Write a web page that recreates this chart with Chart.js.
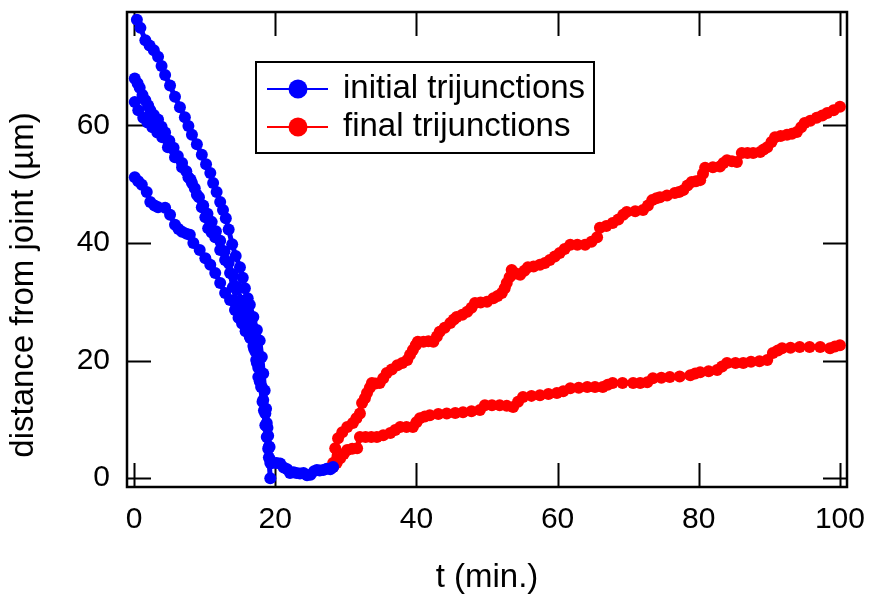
<!DOCTYPE html>
<html>
<head>
<meta charset="utf-8">
<script src="https://cdn.jsdelivr.net/npm/chart.js@4.4.1/dist/chart.umd.min.js"></script>
<style>
  html, body { margin: 0; padding: 0; background: #fff; }
  #wrap { position: relative; width: 873px; height: 594px; }
</style>
</head>
<body>
<div id="wrap"><canvas id="chart" width="873" height="594"></canvas></div>
<script>
// time axis ticks and value axis ticks
const xTicks = [0, 20, 40, 60, 80, 100];
const yTicks = [0, 20, 40, 60];

// initial trijunctions (four tracks, blue)
const tA = [0.4, 0.9, 1.6, 2.2, 2.8, 3.4, 3.9, 4.4, 5.1, 5.8, 6.5, 7.2, 7.7, 8.2, 8.9, 9.6, 10.2, 10.8, 11.2, 11.7, 12.2, 12.6, 13.0, 13.4, 13.9, 14.4, 15.0, 15.4, 15.7, 16.1, 16.4, 16.9, 17.4, 17.8, 18.1, 18.3, 18.5, 18.7, 18.9, 19.1, 19.3];
const yA = [78, 76.6, 74.5, 73.6, 72.8, 71.7, 70.1, 68.6, 66.8, 64.9, 63.1, 61.4, 59.9, 58.4, 56.8, 55, 53.4, 51.9, 50.2, 48.7, 47, 45.6, 44.2, 42.3, 39.8, 37.8, 35.9, 34.1, 32.3, 30.6, 29.5, 27.4, 25.2, 23.4, 20.6, 17.8, 14.9, 11.8, 8.6, 5.4, 2.6];

const tB = [0.1, 0.5, 0.8, 1.2, 1.6, 2.0, 2.3, 2.8, 3.4, 3.9, 4.4, 5.0, 5.6, 6.2, 6.8, 7.4, 8.0, 8.6, 9.2, 9.8, 10.4, 11.0, 11.6, 12.2, 12.8, 13.4, 14.0, 14.6, 15.2, 15.7, 16.2, 16.7, 17.2, 17.6, 18.0, 18.4, 18.8, 19.1];
const yB = [68, 67.2, 66.4, 65.2, 64.3, 63.4, 62.6, 61.8, 61, 59.8, 58.8, 57.4, 56.2, 54.8, 53.6, 52.2, 50.8, 49.3, 47.8, 46.4, 45, 43.6, 42, 40.4, 38.6, 36.6, 34.6, 32.5, 30.2, 28.2, 26.2, 24, 21.5, 18.8, 15.5, 11.5, 7, 3.5];

const tC = [0.1, 0.6, 1.3, 1.9, 2.6, 3.3, 4.0, 4.8, 5.8, 6.8, 7.7, 8.2, 8.9, 9.6, 10.1, 10.5, 11.0, 11.5, 12.2, 12.9, 13.6, 14.0, 14.6, 15.0, 15.5, 16.0, 16.5, 17.0, 17.4, 17.8, 18.2, 18.6, 19.0, 19.3];
const yC = [64, 62.6, 61.3, 60.5, 59.7, 58.8, 58, 56.3, 54.6, 52.9, 51.2, 50.2, 48.2, 46.1, 44.4, 42.5, 41.8, 41, 38.8, 37.1, 34.9, 32.5, 29.8, 28, 26.5, 25.2, 23.8, 22, 19.6, 16.5, 13, 9, 5, 0];

const tD = [0.1, 0.6, 1.1, 1.8, 2.3, 2.9, 3.4, 4.4, 5.1, 5.8, 6.3, 6.8, 7.4, 7.9, 8.4, 9.3, 10.1, 10.8, 11.5, 12.2, 12.9, 13.6, 14.3, 14.8, 15.3, 15.8, 16.4, 16.9, 17.3, 17.6, 18.1, 18.3, 18.6, 18.8, 19.0, 19.2, 19.3, 19.6, 20.2, 20.7, 21.2, 21.7, 22.1, 22.6, 23.0, 23.5, 24.0, 24.5, 25.0, 25.5, 25.9, 26.3, 26.8, 27.3, 27.8, 28.2];
const yD = [51.2, 50.5, 49.9, 48.7, 47, 46.4, 46.1, 46, 44.8, 43.1, 42.4, 41.9, 41.6, 41.4, 40, 38.8, 37.4, 36.3, 34.9, 33.2, 31.5, 30.3, 28.6, 27.3, 26.3, 25, 24, 22.5, 20.1, 17.2, 15.5, 13.3, 11, 9.4, 7.2, 5.3, 3.1, 2.6, 2.6, 2.5, 1.8, 1.5, 0.9, 1.0, 0.9, 0.8, 0.9, 0.5, 0.6, 1.2, 1.4, 1.3, 1.4, 1.6, 1.5, 1.9];

// final trijunctions (two tracks, red)
const tR1 = [28.2, 28.5, 28.9, 29.5, 30.2, 31.0, 31.5, 32.0, 32.3, 32.7, 33.0, 33.4, 33.7, 34.2, 34.8, 35.3, 35.8, 36.5, 37.3, 38.0, 38.7, 39.1, 39.5, 39.9, 40.2, 41.0, 41.7, 42.4, 42.9, 43.3, 44.0, 44.8, 45.3, 45.7, 46.5, 47.2, 47.8, 48.3, 49.1, 50.0, 50.9, 51.5, 52.1, 52.5, 52.8, 53.2, 53.5, 54.1, 54.7, 55.3, 55.8, 56.6, 57.5, 58.2, 58.9, 59.6, 60.3, 61.0, 61.8, 62.8, 63.9, 64.8, 65.6, 66.0, 66.9, 67.8, 68.6, 69.3, 69.8, 71.0, 72.1, 72.8, 73.4, 74.0, 74.5, 75.5, 76.6, 77.2, 77.8, 78.4, 79.0, 79.6, 80.2, 80.6, 80.9, 82.0, 83.0, 83.5, 84.0, 84.7, 85.4, 86.1, 86.9, 87.7, 88.7, 89.2, 89.7, 90.3, 90.8, 91.6, 92.5, 93.2, 93.9, 94.5, 95.0, 95.8, 96.7, 97.5, 98.2, 99.1, 100];
const yR1 = [2.6, 5.1, 6.8, 7.8, 8.7, 9.4, 10.2, 11, 12.8, 13.6, 14.5, 15.4, 16.2, 16.1, 16.2, 17.0, 17.9, 18.5, 19.2, 19.6, 20.1, 21.0, 21.8, 22.6, 23.2, 23.2, 23.3, 23.2, 24.1, 24.9, 25.6, 26.4, 27.0, 27.4, 27.8, 28.3, 29.0, 29.8, 29.9, 30.0, 30.6, 31.0, 31.5, 32.3, 33.2, 34.2, 35.4, 34.8, 34.6, 35.3, 35.9, 36.0, 36.3, 36.6, 37.1, 37.7, 38.3, 39.0, 39.7, 39.7, 39.7, 40.2, 41.0, 42.6, 42.9, 43.4, 44.0, 44.8, 45.3, 45.4, 45.6, 46.4, 47.3, 47.6, 47.8, 48.1, 48.5, 48.7, 49.0, 49.8, 50.4, 50.5, 50.7, 51.8, 52.8, 52.9, 53.0, 53.6, 54.1, 53.9, 53.8, 55.3, 55.3, 55.3, 55.5, 55.9, 56.3, 57.2, 58.0, 58.2, 58.4, 58.6, 58.9, 59.7, 60.4, 60.8, 61.3, 61.7, 62.1, 62.6, 63.2];

const tR2 = [28.2, 28.7, 29.2, 29.7, 30.2, 30.9, 31.6, 32.0, 32.8, 33.6, 34.4, 35.3, 36.3, 37.0, 37.7, 38.6, 39.5, 40.0, 40.5, 41.2, 41.9, 43.1, 44.3, 45.5, 46.6, 47.8, 49.0, 49.7, 50.7, 51.8, 52.8, 53.7, 54.4, 55.1, 56.3, 57.5, 58.7, 59.9, 60.8, 61.8, 63.0, 64.2, 65.3, 66.4, 67.1, 67.8, 69.2, 70.7, 71.7, 72.7, 73.5, 74.7, 75.9, 77.3, 78.8, 79.5, 80.2, 81.4, 82.6, 83.3, 84.0, 85.2, 86.3, 87.4, 88.6, 89.7, 90.5, 91.2, 91.8, 93.0, 94.3, 95.7, 97.2, 98.6, 99.3, 100];
const yR2 = [1.9, 2.6, 3.4, 4.1, 4.8, 5.0, 5.1, 7.0, 7.0, 7.0, 7.0, 7.3, 7.7, 8.2, 8.7, 8.7, 8.7, 9.5, 10.2, 10.5, 10.7, 10.9, 11.0, 11.1, 11.2, 11.4, 11.6, 12.4, 12.4, 12.4, 12.3, 12.1, 13.0, 13.8, 14.0, 14.1, 14.3, 14.5, 14.8, 15.3, 15.4, 15.5, 15.5, 15.5, 15.9, 16.2, 16.2, 16.2, 16.2, 16.3, 17.0, 17.1, 17.2, 17.3, 17.5, 17.8, 18.0, 18.2, 18.4, 19.0, 19.6, 19.6, 19.6, 19.8, 19.9, 20.1, 21.3, 21.7, 22.1, 22.2, 22.3, 22.3, 22.3, 22.1, 22.4, 22.6];

const BLUE = '#0000ff';
const RED = '#ff0000';
const FONT = '"Liberation Sans", Arial, Helvetica, sans-serif';

function pairs(ts, ys) {
    return ts.map((t, i) => ({ x: t, y: ys[i] }));
}

function series(label, ts, ys, color) {
    return {
        label: label,
        data: pairs(ts, ys),
        borderColor: color,
        backgroundColor: color,
        borderWidth: 5,
        borderCapStyle: 'round',
        borderJoinStyle: 'round',
        pointRadius: 6,
        pointBorderWidth: 0,
        pointBackgroundColor: color,
        pointHoverRadius: 6,
        tension: 0
    };
}

// frame with inward ticks on all four sides, drawn under the data
const framePlugin = {
    id: 'frame',
    beforeDatasetsDraw(chart) {
        const { ctx, chartArea: a, scales } = chart;
        const len = 24;
        ctx.save();
        ctx.strokeStyle = '#000';
        ctx.lineWidth = 2;
        ctx.beginPath();
        xTicks.forEach(v => {
            const px = Math.round(scales.x.getPixelForValue(v)) + 0.5;
            ctx.moveTo(px, a.bottom); ctx.lineTo(px, a.bottom - len);
            ctx.moveTo(px, a.top); ctx.lineTo(px, a.top + len);
        });
        yTicks.forEach(v => {
            const py = Math.round(scales.y.getPixelForValue(v)) + 0.5;
            ctx.moveTo(a.left, py); ctx.lineTo(a.left + len, py);
            ctx.moveTo(a.right, py); ctx.lineTo(a.right - len, py);
        });
        ctx.stroke();
        ctx.lineWidth = 2.5;
        ctx.strokeRect(a.left, a.top, a.right - a.left, a.bottom - a.top);
        ctx.restore();
    },
    afterDraw(chart) {
        const ctx = chart.ctx;
        ctx.save();
        // y axis title
        ctx.fillStyle = '#000';
        ctx.font = '33px ' + FONT;
        ctx.translate(24, 285);
        ctx.rotate(-Math.PI / 2);
        ctx.textAlign = 'center';
        ctx.textBaseline = 'middle';
        ctx.fillText('distance from joint (\u00b5m)', 0, 0);
        ctx.restore();

        // legend box
        ctx.save();
        ctx.fillStyle = '#fff';
        ctx.fillRect(256, 62, 338, 91);
        ctx.strokeStyle = '#000';
        ctx.lineWidth = 2;
        ctx.strokeRect(256, 62, 338, 91);
        const rows = [
            { text: 'initial trijunctions', color: BLUE, y: 89 },
            { text: 'final trijunctions', color: RED, y: 127 }
        ];
        ctx.font = '33px ' + FONT;
        ctx.textAlign = 'left';
        ctx.textBaseline = 'alphabetic';
        rows.forEach(r => {
            ctx.strokeStyle = r.color;
            ctx.lineWidth = 2;
            ctx.beginPath();
            ctx.moveTo(267, r.y); ctx.lineTo(328, r.y);
            ctx.stroke();
            ctx.fillStyle = r.color;
            ctx.beginPath();
            ctx.arc(298, r.y, 9.5, 0, Math.PI * 2);
            ctx.fill();
            ctx.fillStyle = '#000';
            ctx.fillText(r.text, 343, r.y + 9);
        });
        ctx.restore();
    }
};

const ctx = document.getElementById('chart').getContext('2d');
new Chart(ctx, {
    type: 'line',
    data: {
        datasets: [
            series('initial trijunctions', tA, yA, BLUE),
            series('initial trijunctions', tB, yB, BLUE),
            series('initial trijunctions', tC, yC, BLUE),
            series('initial trijunctions', tD, yD, BLUE),
            series('final trijunctions', tR1, yR1, RED),
            series('final trijunctions', tR2, yR2, RED)
        ]
    },
    options: {
        responsive: false,
        animation: false,
        devicePixelRatio: 1,
        layout: { padding: { left: 0, right: 26, top: 12, bottom: 0 } },
        plugins: {
            legend: { display: false },
            tooltip: { enabled: false }
        },
        scales: {
            x: {
                type: 'linear',
                min: -1,
                max: 101,
                afterBuildTicks: (scale) => { scale.ticks = xTicks.map(v => ({ value: v })); },
                afterFit: (scale) => {
                    scale.height = 107;
                    scale.paddingLeft = 0;
                    scale.paddingRight = 0;
                },
                grid: { display: false, drawTicks: false },
                border: { display: false },
                ticks: {
                    padding: 15,
                    color: '#000',
                    font: { family: FONT, size: 30 },
                    maxRotation: 0
                },
                title: {
                    display: true,
                    text: 't (min.)',
                    color: '#000',
                    font: { family: FONT, size: 33, lineHeight: 1.0 },
                    padding: { top: 0, bottom: 0 }
                }
            },
            y: {
                type: 'linear',
                min: -1.5,
                max: 79.3,
                afterBuildTicks: (scale) => { scale.ticks = yTicks.map(v => ({ value: v })); },
                afterFit: (scale) => {
                    scale.width = 127;
                    scale.paddingTop = 0;
                    scale.paddingBottom = 0;
                },
                grid: { display: false, drawTicks: false },
                border: { display: false },
                ticks: {
                    padding: 17,
                    color: '#000',
                    font: { family: FONT, size: 30 }
                }
            }
        }
    },
    plugins: [framePlugin]
});
</script>
</body>
</html>
